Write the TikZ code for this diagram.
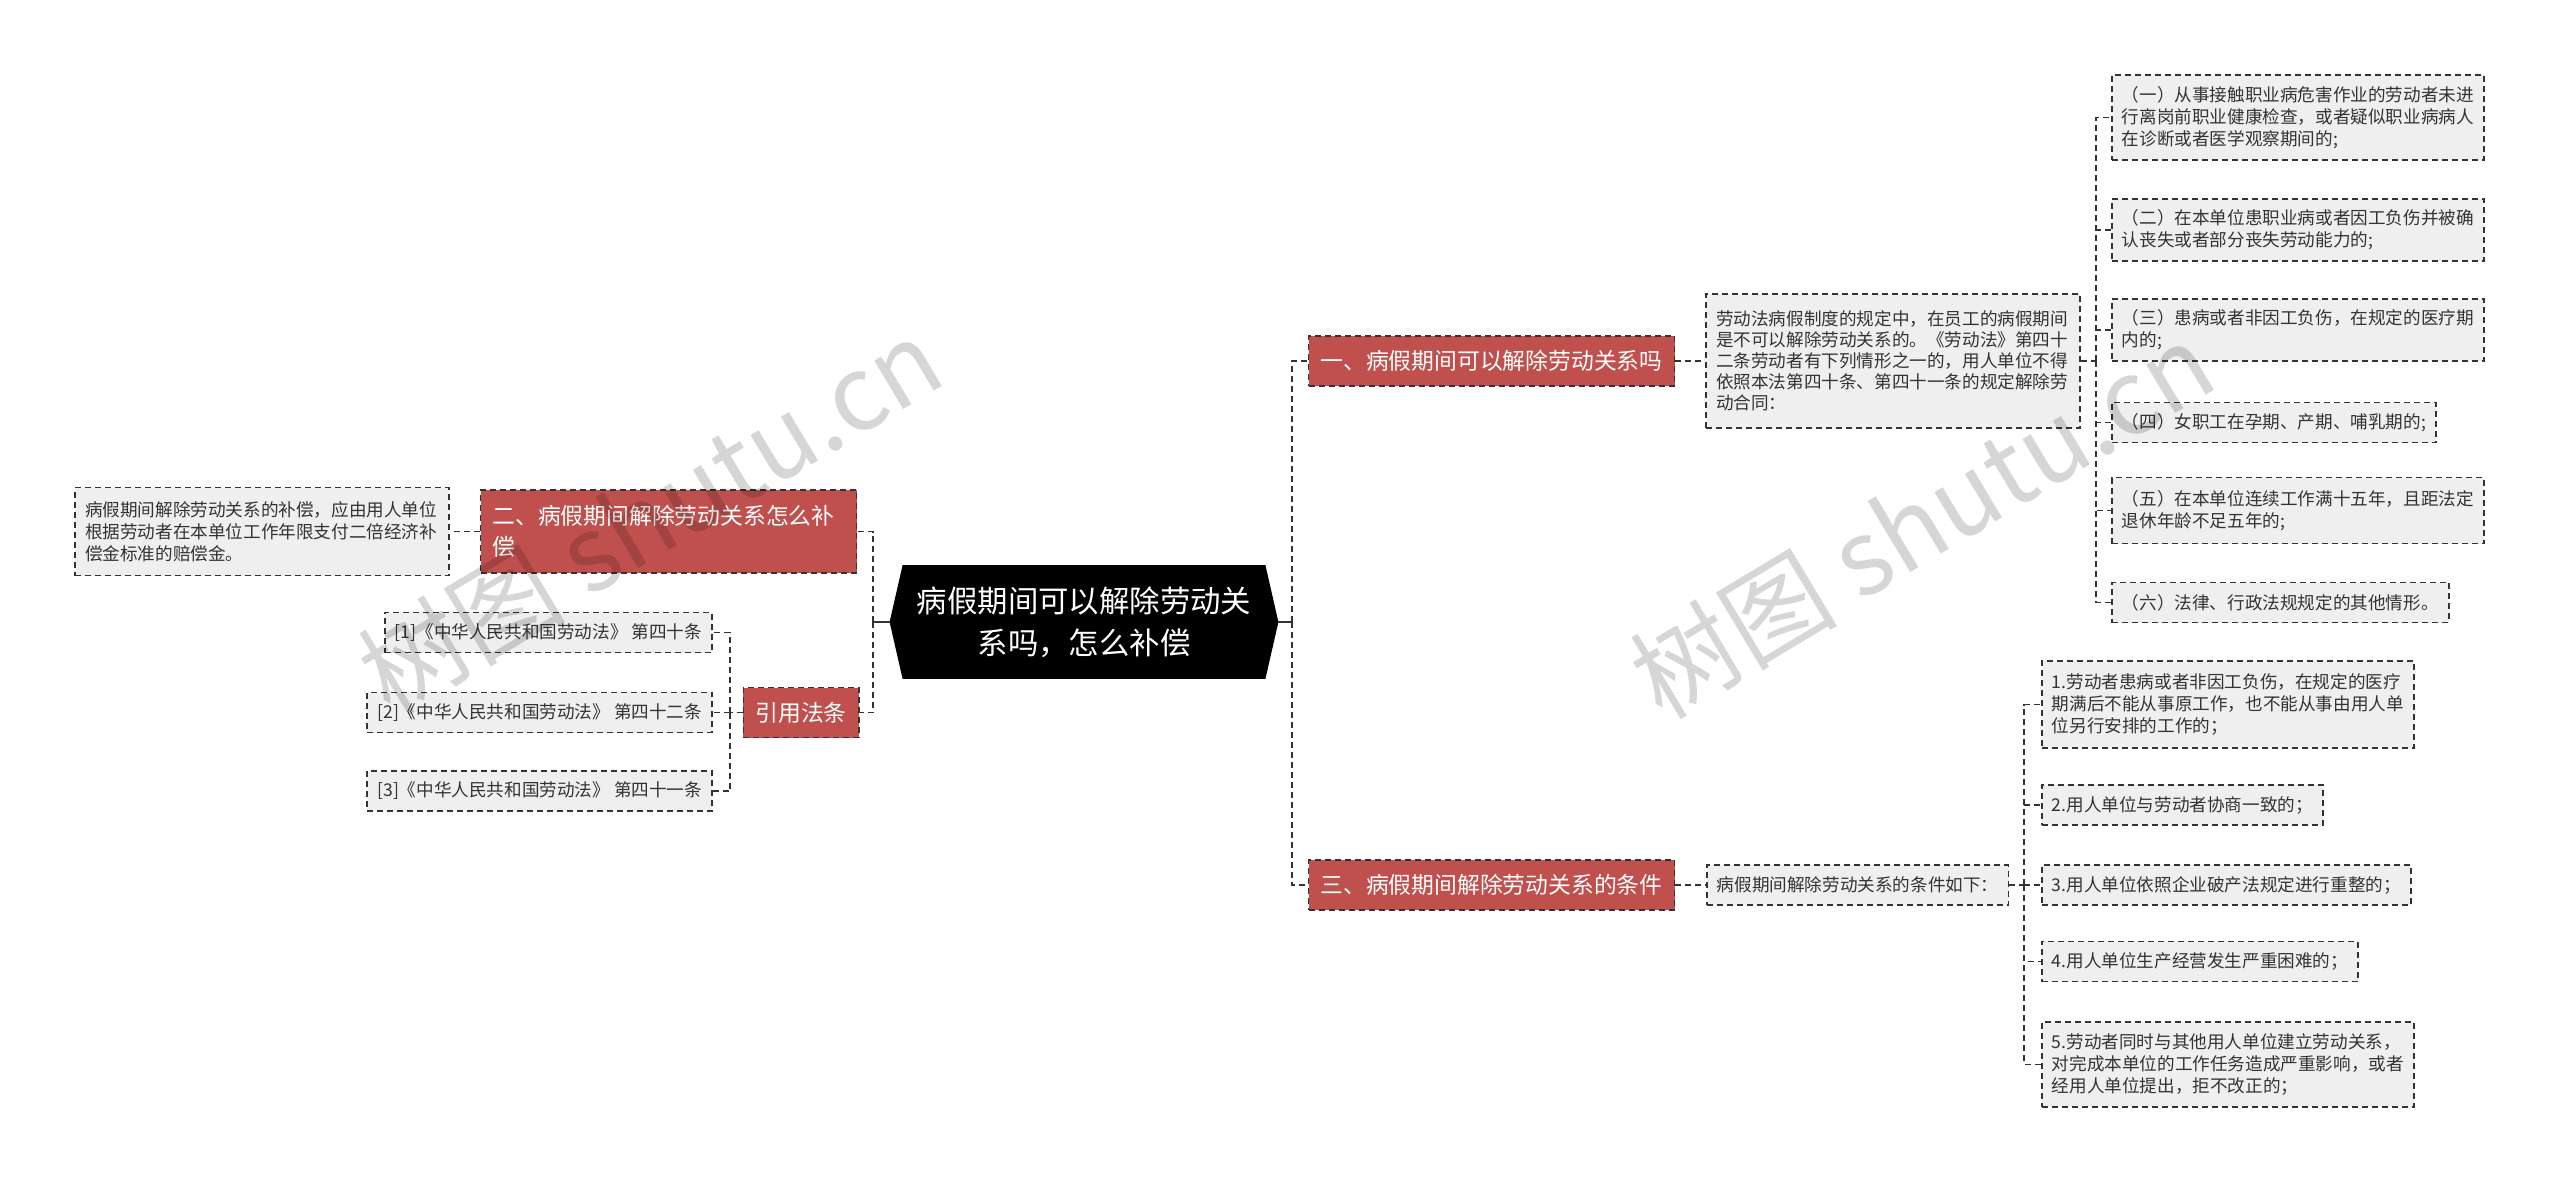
\documentclass[tikz,border=0pt]{standalone}
\usepackage{fontspec}
\newfontfamily\cjk{Noto Sans CJK SC}
\usetikzlibrary{backgrounds}
\definecolor{c1}{HTML}{C0504D}
\definecolor{c2}{HTML}{EFEFEF}
\definecolor{c3}{HTML}{333333}

\begin{document}
\begin{tikzpicture}[x=0.5pt,y=-0.5pt,font=\cjk,
  rootbox/.style={text=white,align=center,minimum width=181pt,minimum height=56.5pt,inner sep=0pt,
    font=\cjk\fontsize{15.2}{21}\selectfont},
  branch/.style={fill=c1,draw=c3,dash pattern=on 3pt off 2pt,line width=0.9pt,text=white,align=left,
    inner xsep=6pt,inner ysep=0pt,minimum height=25pt,font=\cjk\fontsize{11.4}{15.5}\selectfont},
  leaf/.style={fill=c2,draw=c3,dash pattern=on 3pt off 2pt,line width=0.9pt,text=c3,align=left,
    inner xsep=5pt,inner ysep=0pt,minimum height=20pt,font=\cjk\fontsize{8.8}{11}\selectfont},
  link/.style={draw=c3,line width=0.9pt,dash pattern=on 3pt off 2pt},
  wmark/.style={text=black,opacity=0.16,font=\cjk\fontsize{52}{58}\selectfont}]
\useasboundingbox (0,0) rectangle (2560,1183);

% root
\node[rootbox] (root) at (1084,622) {病假期间可以解除劳动关\\系吗，怎么补偿};
\begin{scope}[on background layer]
  \fill[white] (0,0) rectangle (2560,1183);
  \fill[black] (root.north west) -- (root.north east) -- ([xshift=6.5pt]root.east)
    -- (root.south east) -- (root.south west) -- ([xshift=-6.5pt]root.west) -- cycle;
\end{scope}
\coordinate (rootR) at ([xshift=6.5pt]root.east);
\coordinate (rootL) at ([xshift=-6.5pt]root.west);

% branches
\node[branch] (b1) at (1491.5,361) {一、病假期间可以解除劳动关系吗};
\node[branch,text width=176pt,minimum height=41.5pt] (b2) at (668.5,531.5) {二、病假期间解除劳动关系怎么补\\偿};
\node[branch] (b3) at (1491.5,885) {三、病假期间解除劳动关系的条件};
\node[branch] (cite) at (801,712.5) {引用法条};

% left leaves
\node[leaf,text width=177pt,minimum height=44pt] (d2) at (262,531.5)
  {病假期间解除劳动关系的补偿，应由用人单位\\根据劳动者在本单位工作年限支付二倍经济补\\偿金标准的赔偿金。};
\node[leaf,anchor=east] (law1) at (713,632.5) {[1]《中华人民共和国劳动法》 第四十条};
\node[leaf,anchor=east] (law2) at (713,712.5) {[2]《中华人民共和国劳动法》 第四十二条};
\node[leaf,anchor=east] (law3) at (713,791) {[3]《中华人民共和国劳动法》 第四十一条};

% right leaves, part one
\node[leaf,text width=177pt,minimum height=67pt,font=\cjk\fontsize{8.8}{10.5}\selectfont] (d1) at (1893,361)
  {劳动法病假制度的规定中，在员工的病假期间\\是不可以解除劳动关系的。《劳动法》第四十\\二条劳动者有下列情形之一的，用人单位不得\\依照本法第四十条、第四十一条的规定解除劳\\动合同：};
\node[leaf,anchor=west,text width=176pt,minimum height=42.5pt] (it1) at (2111,117.5)
  {（一）从事接触职业病危害作业的劳动者未进\\行离岗前职业健康检查，或者疑似职业病病人\\在诊断或者医学观察期间的;};
\node[leaf,anchor=west,text width=176pt,minimum height=31pt] (it2) at (2111,230)
  {（二）在本单位患职业病或者因工负伤并被确\\认丧失或者部分丧失劳动能力的;};
\node[leaf,anchor=west,text width=176pt,minimum height=31pt] (it3) at (2111,330)
  {（三）患病或者非因工负伤，在规定的医疗期\\内的;};
\node[leaf,anchor=west] (it4) at (2111,422.5) {（四）女职工在孕期、产期、哺乳期的;};
\node[leaf,anchor=west,text width=176pt,minimum height=33pt] (it5) at (2111,510.5)
  {（五）在本单位连续工作满十五年，且距法定\\退休年龄不足五年的;};
\node[leaf,anchor=west] (it6) at (2111,602.5) {（六）法律、行政法规规定的其他情形。};

% right leaves, part three
\node[leaf,anchor=west] (d3) at (1706,885) {病假期间解除劳动关系的条件如下：};
\node[leaf,anchor=west,text width=176pt,minimum height=43.5pt] (c1) at (2041,704.5)
  {1.劳动者患病或者非因工负伤，在规定的医疗\\期满后不能从事原工作，也不能从事由用人单\\位另行安排的工作的；};
\node[leaf,anchor=west] (c2) at (2041,805) {2.用人单位与劳动者协商一致的；};
\node[leaf,anchor=west] (c3) at (2041,885) {3.用人单位依照企业破产法规定进行重整的；};
\node[leaf,anchor=west] (c4) at (2041,961.5) {4.用人单位生产经营发生严重困难的；};
\node[leaf,anchor=west,text width=176pt,minimum height=42.5pt] (c5) at (2041,1064.5)
  {5.劳动者同时与其他用人单位建立劳动关系，\\对完成本单位的工作任务造成严重影响，或者\\经用人单位提出，拒不改正的；};

% connectors
\coordinate (rbus) at (1292,622);
\coordinate (lbus) at (873,622);
\coordinate (cbus) at (730,712.5);
\coordinate (bus1) at (2096,361);
\coordinate (bus3) at (2024,885);
\draw[c3,line width=0.9pt] (rootR) -- (rbus);
\draw[c3,line width=0.9pt] (rootL) -- (lbus);
\draw[link] (rbus) |- (b1.west);
\draw[link] (rbus) |- (b3.west);
\draw[link] (lbus) |- (b2.east);
\draw[link] (lbus) |- (cite.east);
\draw[link] (b2.west) -- (d2.east);
\draw[link] (cite.west) -- (cbus);
\foreach \nd in {law1,law2,law3} \draw[link] (cbus) |- (\nd.east);
\draw[link] (b1.east) -- (d1.west);
\draw[link] (d1.east) -- (bus1);
\foreach \nd in {it1,it2,it3,it4,it5,it6} \draw[link] (bus1) |- (\nd.west);
\draw[link] (b3.east) -- (d3.west);
\draw[link] (d3.east) -- (bus3);
\foreach \nd in {c1,c2,c3,c4,c5} \draw[link] (bus3) |- (\nd.west);

% watermark
\node[wmark,rotate=31] (wm1) at (650,516) {树图 shutu.cn};
\node[wmark,rotate=31] (wm2) at (1922,520) {树图 shutu.cn};
\end{tikzpicture}
\end{document}
